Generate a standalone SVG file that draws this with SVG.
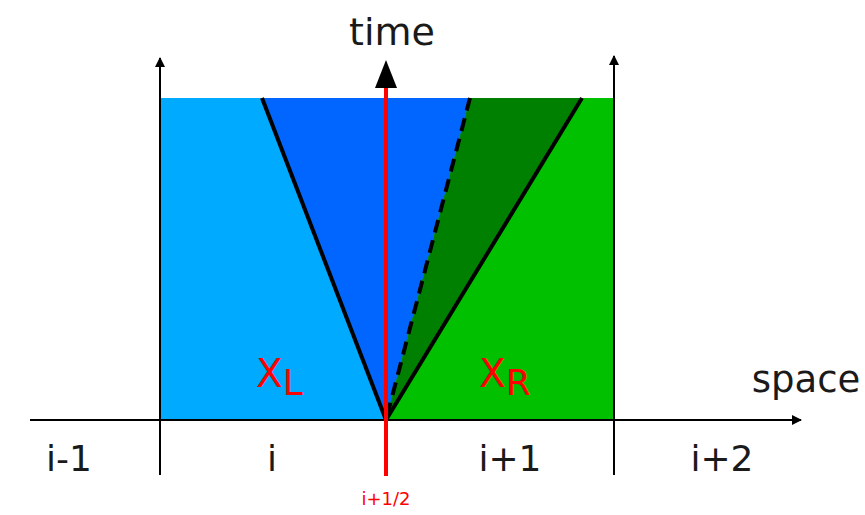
<svg xmlns="http://www.w3.org/2000/svg" width="865" height="515" viewBox="0 0 865 515">
<style>
.ax{stroke:#000;stroke-width:2;fill:none}
.lbl{font-family:"DejaVu Sans",sans-serif;fill:#1a1a1a}
.red{font-family:"DejaVu Sans",sans-serif;fill:#ff0000}
.wave{stroke:#000;stroke-width:4;fill:none}
</style>
<defs>
<marker id="ah" markerWidth="10" markerHeight="10" refX="9" refY="5" orient="auto" markerUnits="userSpaceOnUse"><path d="M0,0 L10,5 L0,10 Z" fill="#000"/></marker>
</defs>
<g id="regions">
<rect x="160" y="98" width="454" height="322" fill="#00aaff"/>
<rect x="386" y="98" width="228" height="322" fill="#00c000"/>
<polygon points="262,98 470,98 386,420" fill="#0066ff"/>
<polygon points="470,98 582,98 386,420" fill="#008000"/>
</g>
<g id="connectors">
<line class="ax" x1="30" y1="420" x2="801" y2="420" marker-end="url(#ah)"/>
<line class="ax" x1="160" y1="475" x2="160" y2="58" marker-end="url(#ah)"/>
<line class="ax" x1="614" y1="475" x2="614" y2="56" marker-end="url(#ah)"/>
<line x1="262" y1="98" x2="386" y2="420" class="wave"/>
<line x1="582" y1="98" x2="386" y2="420" class="wave"/>
<line x1="470" y1="98" x2="386" y2="420" class="wave" stroke-width="3.5" stroke-dasharray="13,8"/>
<line x1="386" y1="476" x2="386" y2="86" stroke="#ff0000" stroke-width="4"/>
<polygon points="386,60 397,88 375,88" fill="#000"/>
</g>
<g id="labels">
<text class="lbl" x="392" y="45" font-size="38" text-anchor="middle">time</text>
<text class="lbl" x="806" y="392" font-size="37" text-anchor="middle">space</text>
<text class="lbl" x="69" y="471" font-size="36" text-anchor="middle">i-1</text>
<text class="lbl" x="272" y="471" font-size="36" text-anchor="middle">i</text>
<text class="lbl" x="510" y="471" font-size="36" text-anchor="middle">i+1</text>
<text class="lbl" x="722" y="471" font-size="36" text-anchor="middle">i+2</text>
<text class="red" x="386" y="505" font-size="18" text-anchor="middle">i+1/2</text>
<text class="red" x="256" y="387" font-size="39">X<tspan font-size="36" dy="8">L</tspan></text>
<text class="red" x="479" y="387" font-size="39">X<tspan font-size="36" dy="8">R</tspan></text>
</g>
</svg>
